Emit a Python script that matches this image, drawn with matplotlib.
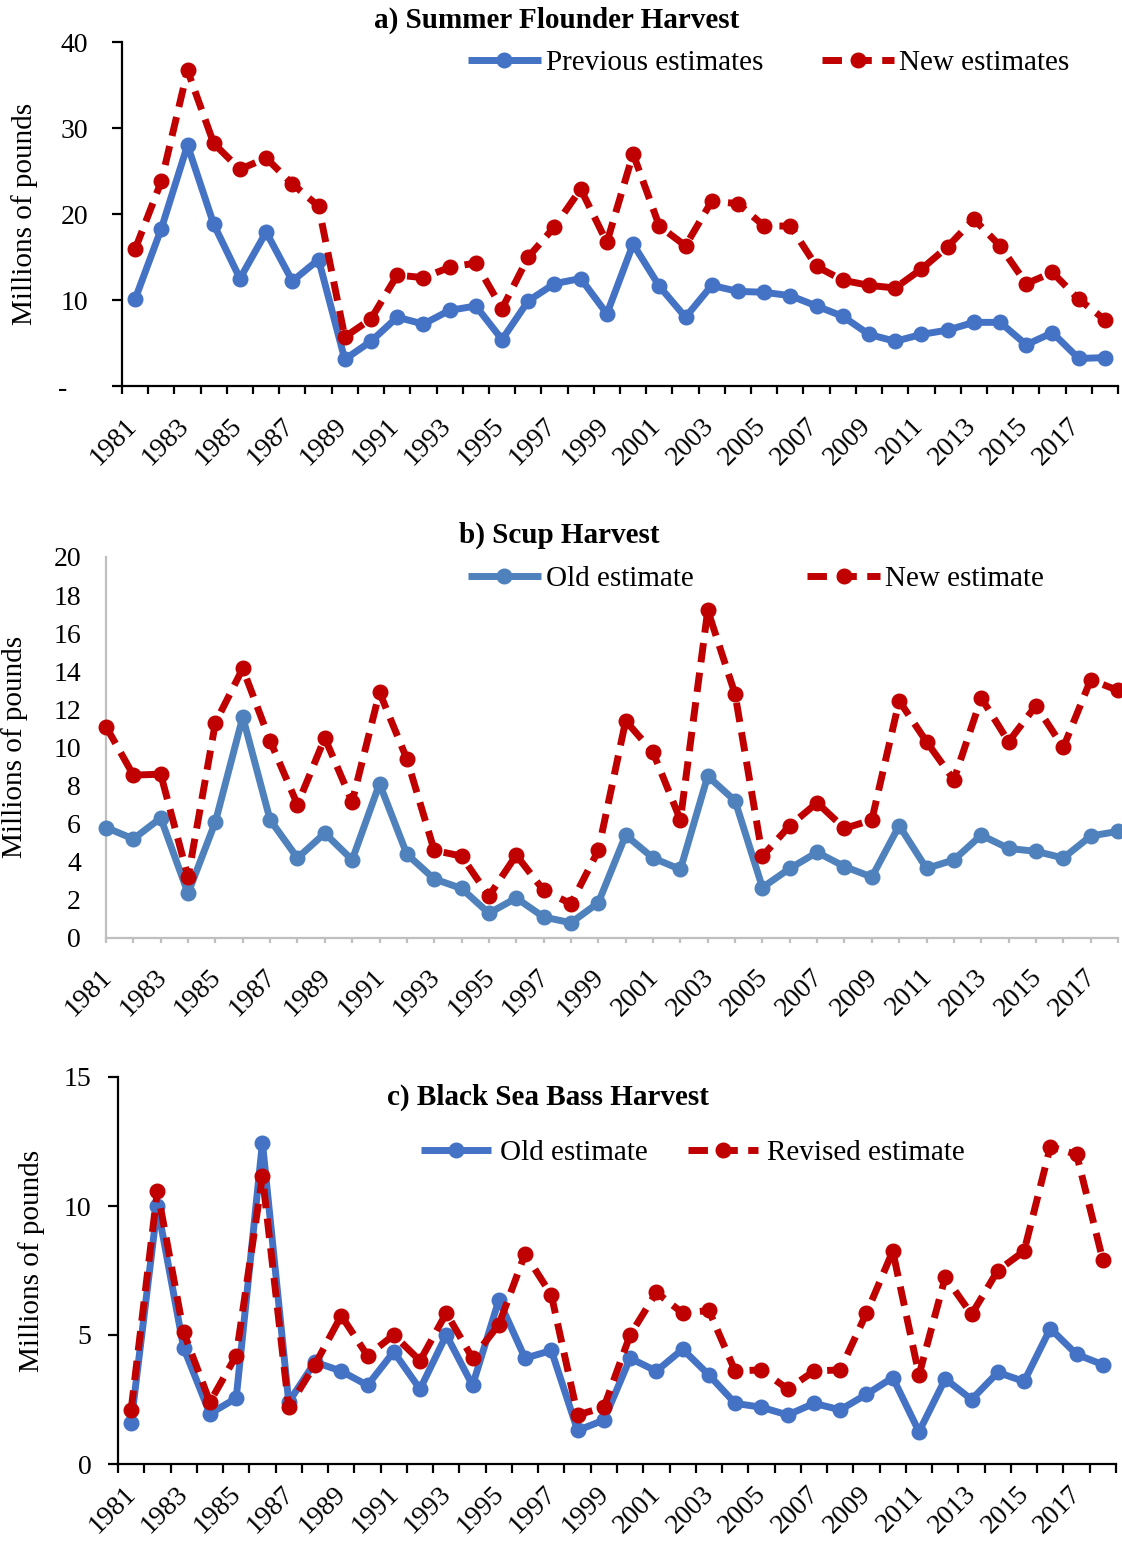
import matplotlib
matplotlib.use("Agg")
import matplotlib.pyplot as plt
import matplotlib.transforms as mtransforms
from matplotlib.ticker import FixedLocator, FixedFormatter

plt.rcParams['font.family'] = ['Liberation Serif', 'DejaVu Serif']

years = list(range(1981, 2019))
year_labels = [str(y) if (y - 1981) % 2 == 0 else "" for y in years]

# a) Summer Flounder Harvest (millions of pounds)
sf_previous = [10.1, 18.3, 28.0, 18.8, 12.5, 17.9, 12.2, 14.7, 3.1, 5.2,
               8.0, 7.2, 8.8, 9.3, 5.4, 9.9, 11.9, 12.5, 8.4, 16.5,
               11.6, 8.0, 11.7, 11.0, 10.9, 10.5, 9.3, 8.1, 6.0, 5.2,
               6.0, 6.5, 7.4, 7.4, 4.8, 6.2, 3.2, 3.3]
sf_new = [15.9, 23.8, 36.7, 28.2, 25.2, 26.5, 23.5, 20.9, 5.7, 7.8,
          12.9, 12.6, 13.8, 14.3, 9.0, 15.0, 18.5, 22.9, 16.7, 27.0,
          18.6, 16.3, 21.5, 21.2, 18.6, 18.6, 13.9, 12.3, 11.7, 11.4,
          13.6, 16.2, 19.4, 16.3, 11.9, 13.2, 10.1, 7.7]

# b) Scup Harvest
scup_old = [5.8, 5.2, 6.3, 2.35, 6.1, 11.6, 6.2, 4.2, 5.5, 4.1,
            8.1, 4.4, 3.1, 2.6, 1.3, 2.1, 1.1, 0.8, 1.85, 5.4,
            4.2, 3.6, 8.5, 7.2, 2.65, 3.65, 4.5, 3.75, 3.2, 5.9,
            3.65, 4.1, 5.4, 4.7, 4.55, 4.2, 5.35, 5.6]
scup_new = [11.1, 8.55, 8.6, 3.2, 11.3, 14.15, 10.35, 7.0, 10.5, 7.15,
            12.9, 9.4, 4.6, 4.3, 2.2, 4.35, 2.5, 1.8, 4.6, 11.4,
            9.75, 6.2, 17.2, 12.8, 4.3, 5.9, 7.1, 5.75, 6.2, 12.45,
            10.3, 8.3, 12.6, 10.3, 12.2, 10.0, 13.55, 13.0]

# c) Black Sea Bass Harvest
bsb_old = [1.6, 10.0, 4.5, 1.95, 2.55, 12.45, 2.4, 3.95, 3.6, 3.05,
           4.35, 2.9, 5.0, 3.05, 6.35, 4.1, 4.4, 1.3, 1.7, 4.1,
           3.6, 4.45, 3.45, 2.35, 2.2, 1.9, 2.35, 2.1, 2.7, 3.35,
           1.25, 3.3, 2.5, 3.55, 3.2, 5.25, 4.25, 3.85]
bsb_revised = [2.1, 10.6, 5.1, 2.4, 4.2, 11.15, 2.2, 3.85, 5.75, 4.2,
               5.0, 4.0, 5.85, 4.1, 5.4, 8.15, 6.55, 1.9, 2.2, 5.0,
               6.65, 5.85, 5.95, 3.6, 3.65, 2.9, 3.6, 3.65, 5.85, 8.25,
               3.45, 7.25, 5.8, 7.5, 8.25, 12.3, 12.0, 7.9]

W, H = 1122, 1542
fig = plt.figure(figsize=(W / 100, H / 100), dpi=100)

FS = 21        # titles, legends, axis labels
TFS = 20       # tick labels
RED = '#C00000'
LW = 5
MS = 10.5
DASH = (2.8, 1.5)


def fx(px):
    return px / W


def fy(py):
    return 1 - py / H


def make_axes(l, r, t, b):
    return fig.add_axes([fx(l), fy(b), fx(r) - fx(l), (b - t) / H])


def style_xlabels(ax, dx, dy):
    off = mtransforms.ScaledTranslation(dx / 100, -dy / 100, fig.dpi_scale_trans)
    for lab in ax.get_xticklabels():
        lab.set_rotation(45)
        lab.set_ha('right')
        lab.set_va('center')
        lab.set_rotation_mode('anchor')
        lab.set_transform(lab.get_transform() + off)


def panel(ax, y1, y2, c1, c2, lab1, lab2, between, spine_color,
          ylim, yticks, yticklabels, ytick_len, ytick_pad, xtick_len,
          legend_xy, colspace, textpad, hlen, lbl_off):
    x = list(range(len(years)))
    l1, = ax.plot(x, y1, color=c1, lw=LW, marker='o', ms=MS, mfc=c1, mec=c1,
                  solid_capstyle='butt', clip_on=False, zorder=3)
    l2, = ax.plot(x, y2, color=c2, lw=LW, marker='o', ms=MS, mfc=c2, mec=c2,
                  linestyle=(0, DASH), dash_capstyle='butt', clip_on=False, zorder=4)
    for s in ['top', 'right']:
        ax.spines[s].set_visible(False)
    for s in ['left', 'bottom']:
        ax.spines[s].set_color(spine_color)
        ax.spines[s].set_linewidth(1.6)
    ax.set_ylim(*ylim)
    ax.set_yticks(yticks)
    ax.set_yticklabels(yticklabels)
    ax.tick_params(axis='y', length=ytick_len, width=1.6, color=spine_color,
                   pad=ytick_pad, labelsize=TFS)
    n = len(years)
    if between:
        ax.set_xlim(-0.5, n - 0.5)
        ax.xaxis.set_major_locator(FixedLocator(x))
        ax.xaxis.set_major_formatter(FixedFormatter(year_labels))
        ax.xaxis.set_minor_locator(FixedLocator([i - 0.5 for i in range(n + 1)]))
        ax.tick_params(axis='x', which='major', length=0, pad=0, labelsize=TFS)
        ax.tick_params(axis='x', which='minor', length=xtick_len, width=1.6,
                       color=spine_color)
    else:
        ax.set_xlim(0, n - 1)
        ax.xaxis.set_major_locator(FixedLocator(x))
        ax.xaxis.set_major_formatter(FixedFormatter(year_labels))
        ax.tick_params(axis='x', which='major', length=xtick_len, width=1.6,
                       color=spine_color, pad=0, labelsize=TFS)
    style_xlabels(ax, *lbl_off)
    ax.legend([l1, l2], [lab1, lab2], loc='center left',
              bbox_to_anchor=(fx(legend_xy[0]), fy(legend_xy[1])),
              bbox_transform=fig.transFigure, ncol=2, frameon=False,
              borderpad=0, borderaxespad=0, fontsize=FS, handlelength=hlen,
              handletextpad=textpad, columnspacing=colspace, numpoints=1)


# Panel a
ax1 = make_axes(122, 1118, 42, 386)
panel(ax1, sf_previous, sf_new, '#4472C4', RED, 'Previous estimates', 'New estimates',
      True, 'black', (0, 40), [0, 10, 20, 30, 40], ['-   ', '10', '20', '30', '40'],
      10 * 0.72, 17, 8 * 0.72, (468, 63), 2.0, 0.17, 2.5, (-2, 36))

# Panel b
ax2 = make_axes(106, 1118, 557, 938)
panel(ax2, scup_old, scup_new, '#4F81BD', RED, 'Old estimate', 'New estimate',
      False, '#BFBFBF', (0, 20), list(range(0, 21, 2)), [str(v) for v in range(0, 21, 2)],
      0, 18, 5 * 0.72, (468, 579), 3.9, 0.17, 2.5, (2, 30))

# Panel c
ax3 = make_axes(118, 1116, 1077, 1464)
panel(ax3, bsb_old, bsb_revised, '#4472C4', RED, 'Old estimate', 'Revised estimate',
      True, 'black', (0, 15), [0, 5, 10, 15], ['0', '5', '10', '15'],
      10 * 0.72, 12, 9 * 0.72, (421, 1153), 1.4, 0.3, 2.4, (1, 26))

# Titles
fig.text(fx(557), fy(20), 'a) Summer Flounder Harvest', ha='center', va='center',
         fontsize=FS, fontweight='bold')
fig.text(fx(559), fy(535), 'b) Scup Harvest', ha='center', va='center',
         fontsize=FS, fontweight='bold')
fig.text(fx(548), fy(1097), 'c) Black Sea Bass Harvest', ha='center', va='center',
         fontsize=FS, fontweight='bold')

# Y labels
fig.text(fx(25), fy(214), 'Millions of pounds', rotation=90, ha='center', va='center',
         fontsize=FS)
fig.text(fx(15), fy(747), 'Millions of pounds', rotation=90, ha='center', va='center',
         fontsize=FS)
fig.text(fx(32), fy(1261), 'Millions of pounds', rotation=90, ha='center', va='center',
         fontsize=FS)

fig.savefig('out.png', dpi=100)
